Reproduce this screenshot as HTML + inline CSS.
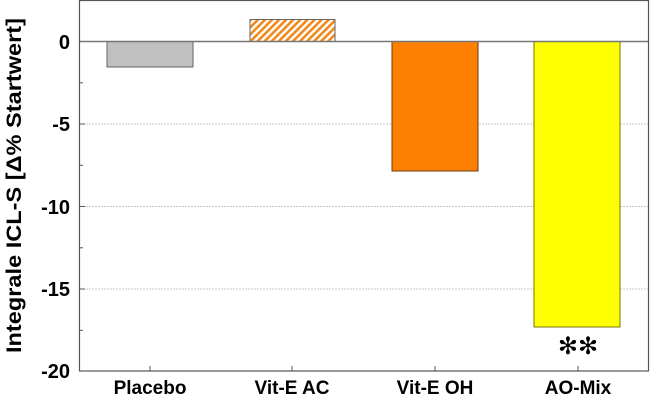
<!DOCTYPE html>
<html><head><meta charset="utf-8"><style>body{margin:0;background:#fff}svg{display:block}</style></head><body>
<svg width="650" height="401" viewBox="0 0 650 401" xmlns="http://www.w3.org/2000/svg" font-family="Liberation Sans, Arial, sans-serif">
<defs><pattern id="h" width="5" height="5" patternUnits="userSpaceOnUse" patternTransform="rotate(45)"><rect width="5" height="5" fill="#fff"/><rect width="2.6" height="5" fill="#f08a1c"/></pattern></defs>
<g stroke="#c8c8c8" stroke-width="1" stroke-dasharray="2,1">
<line x1="80" y1="124" x2="648" y2="124"/><line x1="80" y1="206.5" x2="648" y2="206.5"/><line x1="80" y1="289" x2="648" y2="289"/></g>
<rect x="107" y="41.5" width="86" height="25.5" fill="#c0c0c0" stroke="#666"/>
<rect x="250" y="19.5" width="85" height="22" fill="url(#h)" stroke="#666"/>
<rect x="392" y="41.5" width="86" height="129.5" fill="#ff8000" stroke="#6b3a10"/>
<rect x="534" y="41.5" width="86" height="285.5" fill="#ffff00" stroke="#777700"/>
<line x1="79" y1="41.5" x2="649" y2="41.5" stroke="#777" stroke-width="1.5"/>
<rect x="79.5" y="0.5" width="569" height="370.5" fill="none" stroke="#555" stroke-width="1.2"/>
<g stroke="#555" stroke-width="1">
<line x1="80" y1="82.8" x2="83" y2="82.8"/><line x1="80" y1="165.3" x2="83" y2="165.3"/><line x1="80" y1="247.8" x2="83" y2="247.8"/><line x1="80" y1="330.3" x2="83" y2="330.3"/>
<line x1="80" y1="124" x2="85" y2="124"/><line x1="80" y1="206.5" x2="85" y2="206.5"/><line x1="80" y1="289" x2="85" y2="289"/>
<line x1="150" y1="371" x2="150" y2="366"/><line x1="292" y1="371" x2="292" y2="366"/><line x1="435" y1="371" x2="435" y2="366"/><line x1="578" y1="371" x2="578" y2="366"/></g>
<g font-size="20" font-weight="bold" text-anchor="end" fill="#000">
<text x="70" y="49">0</text><text x="70" y="131">-5</text><text x="70" y="214">-10</text><text x="70" y="296">-15</text><text x="70" y="378">-20</text></g>
<g font-size="19" font-weight="bold" text-anchor="middle" fill="#000">
<text x="150" y="394">Placebo</text><text x="292" y="394">Vit-E AC</text><text x="435" y="394">Vit-E OH</text><text x="578" y="394">AO-Mix</text></g>
<text x="578" y="354" font-size="24" font-family="DejaVu Sans, sans-serif" text-anchor="middle" fill="#000">✻✻</text>
<text transform="translate(21,353) rotate(-90)" font-size="21" font-weight="bold" fill="#000" textLength="335" lengthAdjust="spacingAndGlyphs">Integrale ICL-S [Δ% Startwert]</text>
</svg>
</body></html>
